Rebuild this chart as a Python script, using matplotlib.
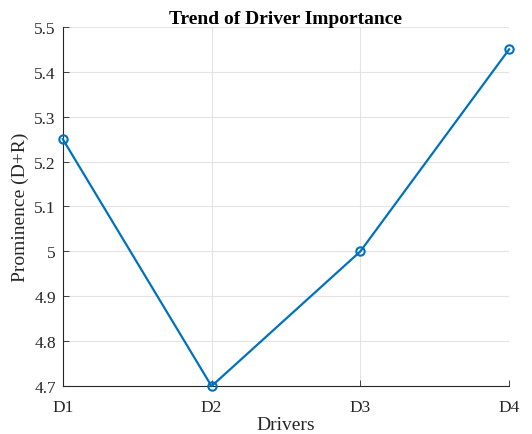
import matplotlib
matplotlib.use("Agg")
import matplotlib.pyplot as plt

drivers = ["D1", "D2", "D3", "D4"]
prominence = [5.25, 4.70, 5.00, 5.45]
y_ticks = [4.7, 4.8, 4.9, 5.0, 5.1, 5.2, 5.3, 5.4, 5.5]
y_tick_labels = ["4.7", "4.8", "4.9", "5", "5.1", "5.2", "5.3", "5.4", "5.5"]

plt.rcParams["font.family"] = ["Liberation Serif", "DejaVu Serif"]

fig = plt.figure(figsize=(5.32, 4.35), dpi=100)
ax = fig.add_axes([0.118, 0.110, 0.839, 0.826])

x = list(range(len(drivers)))
ax.plot(x, prominence, color="#0072BD", linewidth=1.6, marker="o",
        markersize=6, markerfacecolor="none", markeredgewidth=1.5,
        clip_on=False, zorder=3)

ax.set_xlim(0, len(drivers) - 1)
ax.set_ylim(4.7, 5.5)
ax.set_xticks(x)
ax.set_xticklabels(drivers)
ax.set_yticks(y_ticks)
ax.set_yticklabels(y_tick_labels)

ax.grid(True, color="#e3e3e3", linewidth=0.8)
ax.set_axisbelow(True)
for side in ("top", "right"):
    ax.spines[side].set_visible(False)
for side in ("left", "bottom"):
    ax.spines[side].set_color("#262626")
    ax.spines[side].set_linewidth(0.8)

ax.tick_params(direction="in", length=4, width=0.6, colors="#262626",
               labelsize=12.5, labelcolor="#262626")
ax.tick_params(axis="x", pad=9)
ax.tick_params(axis="y", pad=5)

ax.set_xlabel("Drivers", fontsize=14, color="#262626", labelpad=1)
ax.set_ylabel("Prominence (D+R)", fontsize=14, color="#262626", labelpad=4)
ax.set_title("Trend of Driver Importance", fontsize=14, fontweight="bold",
             color="black", pad=3)

fig.savefig("out.png", dpi=100)
